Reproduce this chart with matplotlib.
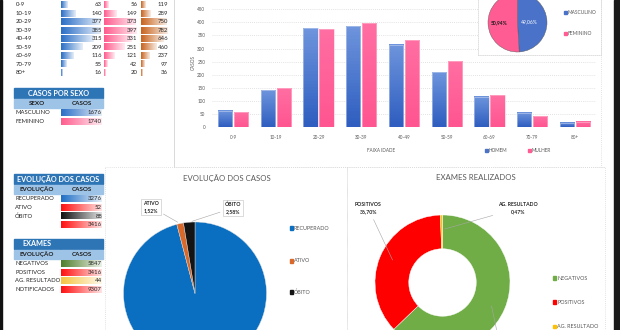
import numpy as np
import matplotlib.pyplot as plt
from matplotlib.patches import Rectangle
from matplotlib.colors import LinearSegmentedColormap, to_rgb

plt.rcParams['font.family'] = ['Lato', 'DejaVu Sans']

# casos por faixa idade
faixas = ['0-9', '10-19', '20-29', '30-39', '40-49', '50-59', '60-69', '70-79', '80+']
homem = [63, 140, 377, 385, 315, 209, 116, 55, 16]
mulher = [56, 149, 373, 397, 331, 251, 121, 42, 20]
total_faixa = [119, 289, 750, 782, 646, 460, 237, 97, 36]

sexo = ['MASCULINO', 'FEMININO']
casos_sexo = [1676, 1740]

evolucao = ['RECUPERADO', 'ATIVO', 'ÓBITO']
casos_evol = [3276, 52, 88]

exames = ['NEGATIVOS', 'POSITIVOS', 'AG. RESULTADO']
casos_exames = [5847, 3416, 44]

W, H = 620, 330
GRAY = '#595959'
LINE = '#d9d9d9'
DOT = (0, (1, 1.5))

fig = plt.figure(figsize=(W / 100, H / 100), dpi=100)


def box(x0, y0, x1, y1):
    # axes in pixel coords, y counted from the top
    return fig.add_axes([x0 / W, 1 - y1 / H, (x1 - x0) / W, (y1 - y0) / H])


def pct(v, tot):
    return f'{100 * v / tot:.2f}%'.replace('.', ',')


def fade(c, k=0.88):
    r = np.array(to_rgb(c))
    return LinearSegmentedColormap.from_list('f', [r, r + (1 - r) * k])


bg = box(0, 0, W, H)
bg.set_xlim(0, W)
bg.set_ylim(H, 0)
bg.axis('off')


def databar(x, y, w, h, c):
    bg.imshow(np.linspace(0, 1, 64).reshape(1, -1), cmap=fade(c),
              extent=[x, x + w, y + h / 2, y - h / 2], aspect='auto',
              zorder=2, interpolation='bilinear')


# --- table: cases by age
cols = [(homem, 61, 40, 102, '#2a6fc6'),
        (mulher, 104, 33, 137.5, '#ff5c8e'),
        (total_faixa, 141, 27, 168, '#c8641f')]
for i, f in enumerate(faixas):
    yc = 5 + 8.45 * i
    bg.text(16, yc, f, fontsize=4.3, va='center', color='#262626')
    for vals, x0, wmax, xr, c in cols:
        databar(x0, yc, wmax * vals[i] / max(vals), 6.4, c)
        bg.text(xr, yc, str(vals[i]), fontsize=4.3, va='center', ha='right',
                color='#262626', zorder=3)


def table(y, title, head, labels, vals, colors, left=False):
    bg.add_patch(Rectangle((14, y), 89, 9.5, color='#2e75b6'))
    if left:
        bg.text(22, y + 5, title, fontsize=5.2, color='white', weight='bold', va='center')
    else:
        bg.text(58.5, y + 5, title, fontsize=5.2, color='white', weight='bold',
                va='center', ha='center')
    bg.add_patch(Rectangle((14, y + 10.5), 46, 9, color='#9dc3e6'))
    bg.add_patch(Rectangle((61, y + 10.5), 42, 9, color='#9dc3e6'))
    bg.text(37, y + 15.2, head, fontsize=4.5, weight='bold', ha='center', va='center', color='#1f1f1f')
    bg.text(82, y + 15.2, 'CASOS', fontsize=4.5, weight='bold', ha='center', va='center', color='#1f1f1f')
    for j, (lab, v, c) in enumerate(zip(labels, vals, colors)):
        yc = y + 24.8 + 8.6 * j
        bg.text(15, yc, lab, fontsize=4.2, va='center', color='#262626')
        databar(61, yc, 41 * v / v, 6.5, c)
        bg.text(102, yc, str(v), fontsize=4.3, va='center', ha='right', color='#262626', zorder=3)


table(88, 'CASOS POR SEXO', 'SEXO', sexo, casos_sexo, ['#2a6fc6', '#ff5c8e'])
table(174, 'EVOLUÇÃO DOS CASOS', 'EVOLUÇÃO', evolucao + [''],
      casos_evol + [sum(casos_evol)], ['#1f6fc5', '#ff1010', '#111111', '#ff1010'])
table(239, 'EXAMES', 'EVOLUÇÃO', exames + ['NOTIFICADOS'],
      casos_exames + [sum(casos_exames)], ['#4f7f2c', '#ff1010', '#f5c542', '#ff1010'], left=True)

# panel frames
bg.plot([174, 174], [0, 167], color=LINE, lw=0.7)
bg.plot([174, 605], [167, 167], color=LINE, lw=0.6, ls=DOT)
bg.plot([601, 601], [0, 167], color=LINE, lw=0.6, ls=DOT)
bg.add_patch(Rectangle((105, 167), 242, 175, fill=False, ec=LINE, lw=0.6, ls=DOT))
bg.add_patch(Rectangle((347, 167), 258, 175, fill=False, ec=LINE, lw=0.6, ls=DOT))
bg.add_patch(Rectangle((0, 0), 1.5, H, color='#111111'))
bg.add_patch(Rectangle((614, 0), 6, H, color='#1a1a1a'))

# --- bar chart by age and sex
ax = box(211.6, 9.3, 596.4, 127)
ax.patch.set_alpha(0)
x = np.arange(len(faixas))


def gbar(xs, vals, c_top, c_bot, edge):
    cm = LinearSegmentedColormap.from_list('g', [c_bot, c_top])
    bars = ax.bar(xs, vals, 0.33, facecolor='none', edgecolor=edge, lw=0.4, zorder=4)
    for b in bars:
        ax.imshow(np.linspace(0, 1, 32).reshape(-1, 1), cmap=cm, origin='lower',
                  extent=[b.get_x(), b.get_x() + b.get_width(), 0, b.get_height()],
                  aspect='auto', zorder=3)


gbar(x - 0.187, homem, '#6d94dc', '#2f5ec0', '#c5d3ee')
gbar(x + 0.187, mulher, '#ff6ea2', '#ff5590', '#ffc2d6')
ax.set_xlim(-0.5, 8.5)
ax.set_ylim(0, 450)
ax.set_yticks(range(0, 451, 50))
ax.set_xticks(x, faixas)
ax.tick_params(length=0, labelsize=3.3, colors=GRAY)
ax.tick_params(axis='y', pad=4.5)
ax.tick_params(axis='x', pad=6)
ax.grid(axis='y', color=LINE, ls=DOT, lw=0.6, zorder=0)
for s in ax.spines.values():
    s.set_visible(False)
ax.axhline(0, color=LINE, lw=0.7, zorder=1)

# --- pie by sex (box covers grid)
pb = box(478, -2, 601, 55)
pb.set_xticks([])
pb.set_yticks([])
for s in pb.spines.values():
    s.set_color(LINE)
    s.set_linestyle(DOT)
    s.set_linewidth(0.6)

ps = box(488, -7, 547, 52)
tot = sum(casos_sexo)
ws, _ = ps.pie(casos_sexo, colors=['#4a72c8', '#ff5c93'], startangle=90, counterclock=False,
               wedgeprops=dict(edgecolor='#555555', lw=0.3))
for w, v, r, c in zip(ws, casos_sexo, [0.4, 0.63], ['white', '#1a1a1a']):
    a = np.deg2rad((w.theta1 + w.theta2) / 2)
    ps.text(r * np.cos(a), r * np.sin(a), pct(v, tot), fontsize=3.6, color=c,
            ha='center', va='center', weight='bold' if c != 'white' else 'normal')
ps.set_xlim(-1, 1)
ps.set_ylim(-1, 1)

# --- pie evolucao
p1 = box(123.5, 222, 266.5, 365)
tot = sum(casos_evol)
ws, _ = p1.pie(casos_evol, colors=['#0a6fc0', '#d9692b', '#141414'], startangle=90,
               counterclock=False, wedgeprops=dict(edgecolor='#dddddd', lw=0.3))
for w, v, lab, pos in zip(ws[1:], casos_evol[1:], evolucao[1:], [(-0.615, 1.21), (0.53, 1.196)]):
    a = np.deg2rad((w.theta1 + w.theta2) / 2)
    p1.annotate(f'{lab}\n{pct(v, tot)}', xy=(np.cos(a), np.sin(a)), xytext=pos,
                fontsize=3.7, weight='bold', ha='center', va='center', color='#262626',
                annotation_clip=False, linespacing=1.5,
                bbox=dict(boxstyle='square,pad=0.35', fc='white', ec='#bfbfbf', lw=0.4),
                arrowprops=dict(arrowstyle='-', color='#a6a6a6', lw=0.4))
p1.set_xlim(-1, 1)
p1.set_ylim(-1, 1)

# --- donut exames
p2 = box(375, 215, 510, 350)
tot = sum(casos_exames)
ws, _ = p2.pie(casos_exames, colors=['#70ad47', '#ff0000', '#ffc000'], startangle=90,
               counterclock=False, wedgeprops=dict(width=0.5, edgecolor='white', lw=0.3))
for w, v, lab, pos in zip(ws, casos_exames, exames, [(0.95, -1.4), (-1.10, 1.10), (1.12, 1.10)]):
    a = np.deg2rad((w.theta1 + w.theta2) / 2)
    # the NEGATIVOS callout sits below the visible area: only its leader shows
    txt = '' if pos[1] < -1.2 else f'{lab}\n{pct(v, tot)}'
    p2.annotate(txt, xy=(0.78 * np.cos(a), 0.78 * np.sin(a)), xytext=pos,
                fontsize=3.7, weight='bold', ha='center', va='center', color='#262626',
                annotation_clip=False, linespacing=1.5,
                arrowprops=dict(arrowstyle='-', color='#a6a6a6', lw=0.4))
p2.set_xlim(-1, 1)
p2.set_ylim(-1, 1)

# --- overlay: titles, axis labels and legends
ov = box(0, 0, W, H)
ov.set_xlim(0, W)
ov.set_ylim(H, 0)
ov.axis('off')


def legend(labels, colors, xs, ys, size):
    for lab, c, x, y in zip(labels, colors, xs, ys):
        ov.add_patch(Rectangle((x, y - 1.6), 3.2, 3.2, color=c))
        ov.text(x + 4, y, lab, fontsize=size, va='center', color=GRAY)


ov.text(193, 63, 'CASOS', rotation=90, fontsize=3.3, color=GRAY, ha='center', va='center')
ov.text(381, 150.5, 'FAIXA IDADE', fontsize=3.3, color=GRAY, ha='center', va='center')
legend(['HOMEM', 'MULHER'], ['#4a72c8', '#ff5c93'], [485, 528], [150.5, 150.5], 3.4)
legend(sexo, ['#4a72c8', '#ff5c93'], [563.5, 563.5], [12.7, 33.3], 3.5)
ov.text(227, 178, 'EVOLUÇÃO DOS CASOS', fontsize=5.6, color=GRAY, ha='center', va='center')
ov.text(476, 178, 'EXAMES REALIZADOS', fontsize=5.6, color=GRAY, ha='center', va='center')
legend(evolucao, ['#0a6fc0', '#d9692b', '#141414'], [290] * 3, [228, 261, 292], 3.9)
legend(exames, ['#70ad47', '#ff0000', '#ffc000'], [553] * 3, [278, 302, 326.5], 3.9)

fig.savefig('out.png', dpi=100)
